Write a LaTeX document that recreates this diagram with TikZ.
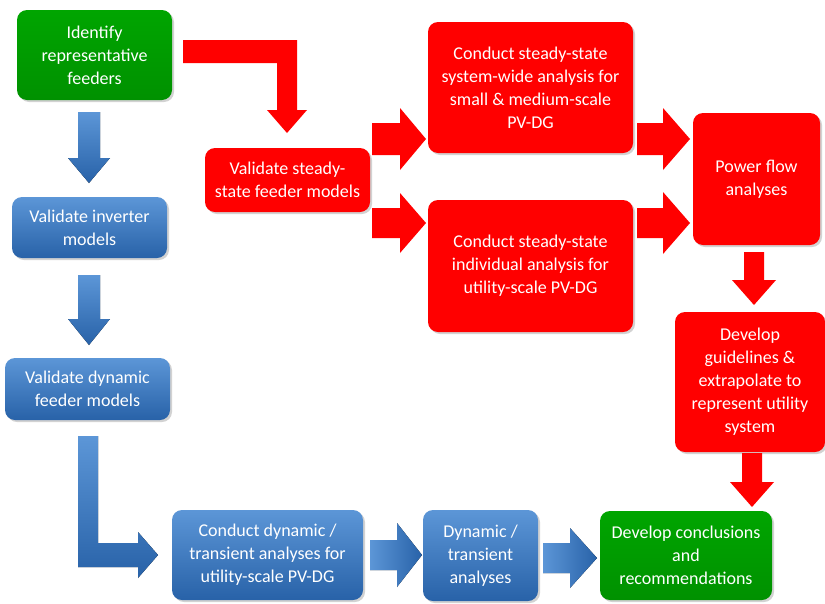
\documentclass[tikz,border=0pt]{standalone}
\usepackage{fontspec}
\setmainfont{Carlito}
\usetikzlibrary{shadows}
\definecolor{rd}{RGB}{255,0,0}
\definecolor{gr}{RGB}{0,165,0}
\definecolor{grd}{RGB}{0,145,0}
\definecolor{blt}{RGB}{92,150,215}
\definecolor{blb}{RGB}{40,98,168}
\newcommand\harr[8]{% style, x0, xhead, xtip, yc, shaft half, head half, name
  \fill[#1] ({#2},{#5-#6}) -- ({#3},{#5-#6}) -- ({#3},{#5-#7}) -- ({#4},{#5}) -- ({#3},{#5+#7}) -- ({#3},{#5+#6}) -- ({#2},{#5+#6}) -- cycle;
  \coordinate (#8) at ({#4},{#5});}
\newcommand\varr[8]{% style, y0, yhead, ytip, xc, shaft half, head half, name
  \fill[#1] ({#5-#6},{#2}) -- ({#5-#6},{#3}) -- ({#5-#7},{#3}) -- ({#5},{#4}) -- ({#5+#7},{#3}) -- ({#5+#6},{#3}) -- ({#5+#6},{#2}) -- cycle;
  \coordinate (#8) at ({#5},{#4});}
\begin{document}
\begin{tikzpicture}[x=1pt,y=-1pt,
  box/.style={rounded corners=10pt, align=center, text=white, inner sep=1pt,
    font=\fontsize{18}{23}\selectfont,
    drop shadow={opacity=0.35, shadow xshift=2pt, shadow yshift=-2pt}},
  redbox/.style={box, fill=rd},
  greenbox/.style={box, top color=gr, bottom color=grd},
  bluebox/.style={box, top color=blt, bottom color=blb},
  redarr/.style={fill=rd},
  bluearr/.style={left color=blt, right color=blb},
  bluearrv/.style={top color=blt, bottom color=blb},
]
\useasboundingbox (0,0) rectangle (825,603);
\fill[white] (0,0) rectangle (825,603);

% boxes
\node[greenbox, minimum width=155pt, minimum height=90pt] (ident) at (94.5,55) {Identify\\representative\\feeders};
\node[bluebox, minimum width=155pt, minimum height=61pt] (inv) at (89.5,227.5) {Validate inverter\\models};
\node[bluebox, minimum width=165pt, minimum height=62pt] (dyn) at (87.5,389) {Validate dynamic\\feeder models};
\node[bluebox, minimum width=191pt, minimum height=90pt] (cdt) at (267.5,555) {Conduct dynamic /\\transient analyses for\\utility-scale PV-DG};
\node[bluebox, minimum width=115pt, minimum height=91pt] (dta) at (480.5,555.5) {Dynamic /\\transient\\analyses};
\node[greenbox, minimum width=172pt, minimum height=89pt] (concl) at (686,555.5) {Develop conclusions\\and\\recommendations};
\node[redbox, minimum width=150pt, minimum height=140pt] (guide) at (750,382) {Develop\\guidelines \&\\extrapolate to\\represent utility\\system};
\node[redbox, minimum width=127pt, minimum height=132pt] (pf) at (756.5,179) {Power flow\\analyses};
\node[redbox, minimum width=205pt, minimum height=131pt] (c1) at (530.5,87.5) {Conduct steady-state\\system-wide analysis for\\small \& medium-scale\\PV-DG};
\node[redbox, minimum width=205pt, minimum height=132pt] (c2) at (530.5,266) {Conduct steady-state\\individual analysis for\\utility-scale PV-DG};
\node[redbox, minimum width=165pt, minimum height=64pt] (vs) at (287.5,180) {Validate steady-\\state feeder models};

% blue arrows
\varr{bluearrv}{112}{158}{183}{89}{11}{21}{a1}
\varr{bluearrv}{275}{319}{345}{89}{11}{21}{a2}
\fill[bluearrv] (78,436) -- (98,436) -- (98,543) -- (138,543) -- (138,532) -- (158,555) -- (138,578) -- (138,567) -- (78,567) -- cycle;
\harr{bluearr}{370}{397}{422}{555}{15}{32}{a3}
\harr{bluearr}{543}{570}{597}{558}{15}{30}{a4}

% red arrows
\fill[redarr] (183,40) -- (297,40) -- (297,110) -- (307,110) -- (287,133) -- (267,110) -- (277,110) -- (277,63) -- (183,63) -- cycle;
\harr{redarr}{372}{400}{426}{139}{16}{31}{a5}
\harr{redarr}{372}{400}{426}{223}{15}{30}{a6}
\harr{redarr}{637}{663}{690}{139}{16}{31}{a7}
\harr{redarr}{637}{663}{690}{223}{15}{31}{a8}
\varr{redarr}{252}{280}{305}{754}{10}{22}{a9}
\varr{redarr}{453}{482}{507}{752}{10}{22}{a10}
\end{tikzpicture}
\end{document}
